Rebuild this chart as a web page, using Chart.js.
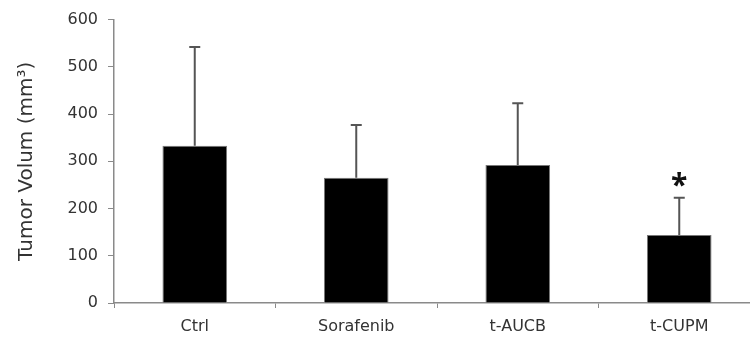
<!DOCTYPE html>
<html>
<head>
<meta charset="utf-8">
<script src="https://cdn.jsdelivr.net/npm/chart.js@4.4.0/dist/chart.umd.min.js"></script>
<style>
  html, body { margin: 0; padding: 0; background: #fff; overflow: hidden; }
  #wrap { width: 760px; height: 346px; }
</style>
</head>
<body>
<div id="wrap"><canvas id="tumorChart" width="760" height="346"></canvas></div>
<script>
// Data
const groups = ['Ctrl', 'Sorafenib', 't-AUCB', 't-CUPM'];
const meanVolume = [333, 265, 292, 144];
const errorUpper = [209, 112, 131, 79];   // +SD above the bar
const significant = [false, false, false, true];
const yTicks = [0, 100, 200, 300, 400, 500, 600];

const axisGray = '#8a8a8a';
const textGray = '#333';
const fontFamily = '"DejaVu Sans", sans-serif';

// Upper-only error bars and significance stars
const errorBarPlugin = {
    id: 'errorBars',
    afterDatasetsDraw(chart) {
        const ctx = chart.ctx;
        const x = chart.scales.x;
        const y = chart.scales.y;
        ctx.save();
        groups.forEach((g, i) => {
            const cx = x.getPixelForValue(i);
            const yTop = y.getPixelForValue(meanVolume[i]);
            const yErr = y.getPixelForValue(meanVolume[i] + errorUpper[i]);
            ctx.strokeStyle = '#555';
            ctx.lineWidth = 2;
            ctx.beginPath();
            ctx.moveTo(cx, yTop);
            ctx.lineTo(cx, yErr);
            ctx.moveTo(cx - 5.5, yErr);
            ctx.lineTo(cx + 5.5, yErr);
            ctx.stroke();
            if (significant[i]) {
                ctx.fillStyle = '#111';
                ctx.font = 'bold 30px "Open Sans", sans-serif';
                ctx.textAlign = 'center';
                ctx.textBaseline = 'middle';
                ctx.fillText('*', cx, yErr - 11);
            }
        });
        ctx.restore();
    }
};

new Chart(document.getElementById('tumorChart').getContext('2d'), {
    type: 'bar',
    data: {
        labels: groups,
        datasets: [{
            data: meanVolume,
            backgroundColor: '#000',
            borderColor: '#777',
            borderWidth: 1,
            categoryPercentage: 1.0,
            barPercentage: 0.4
        }]
    },
    options: {
        responsive: false,
        animation: false,
        layout: { padding: { top: 6, right: 0, bottom: 0, left: 0 } },
        plugins: {
            legend: { display: false },
            tooltip: { enabled: false }
        },
        scales: {
            x: {
                grid: {
                    display: true,
                    drawOnChartArea: false,
                    drawTicks: true,
                    tickLength: 5,
                    color: axisGray,
                    offset: true
                },
                border: { color: axisGray, width: 1.5 },
                ticks: {
                    color: textGray,
                    font: { family: fontFamily, size: 16 },
                    padding: 9
                },
                afterFit(scale) { scale.height = 43; }
            },
            y: {
                min: 0,
                max: 600,
                afterBuildTicks(scale) {
                    scale.ticks = yTicks.map(v => ({ value: v }));
                },
                grid: {
                    display: true,
                    drawOnChartArea: false,
                    drawTicks: true,
                    tickLength: 6,
                    color: axisGray
                },
                border: { color: axisGray, width: 1.5 },
                ticks: {
                    color: textGray,
                    font: { family: fontFamily, size: 16 },
                    padding: 10
                },
                title: {
                    display: true,
                    text: 'Tumor Volum (mm³)',
                    color: textGray,
                    font: { family: fontFamily, size: 20 },
                    padding: { top: 15, bottom: 0 }
                },
                afterFit(scale) { scale.width = 114; }
            }
        }
    },
    plugins: [errorBarPlugin]
});
</script>
</body>
</html>
